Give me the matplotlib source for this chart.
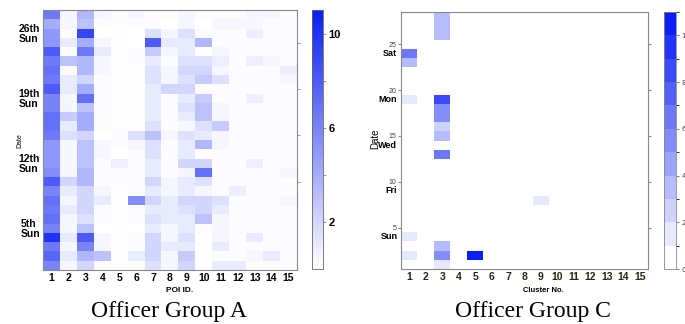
import numpy as np
import matplotlib
matplotlib.use('Agg')
import matplotlib.pyplot as plt
from matplotlib.colors import LinearSegmentedColormap, ListedColormap, BoundaryNorm

# ---------------------------------------------------------------
# Officer Group A : visits per POI, values listed from day 28 (top) down to day 1
poi_ids = list(range(1, 16))
a_poi01 = [6.5,4,5,5,8,6.5,7,6.5,8,6,6,7,7,6.5,5,5,5,5.5,8,6,7,6.5,7,6,10,6.5,7.5,6]
a_poi02 = [0.4,0.4,0.15,1,0.15,3,0.15,1,1,0.4,0.4,2.5,1,1.5,0.4,0.4,0.4,0.4,2,1,0.4,1,0.4,0.4,1,0.4,1,0.4]
a_poi03 = [3.5,3,9,4,6.5,3.5,3.5,2,4,7,3,4,4,2,3,3,3,3.5,3.5,2,2,2,1.5,3,8,6,3.5,2]
a_poi04 = [0.4,0.15,0,0.4,1,0.4,0.4,0.15,0.15,0.15,0.15,0.15,0.15,0,0.4,0.4,0.15,0.15,0.15,0.4,1,0.15,0.15,0,0.4,0.4,3,0.15]
a_poi05 = [0.15,0.1,0.1,0.1,0.1,0.1,0.1,0.1,0.1,0.1,0.1,0.1,0.1,0.15,0.15,0,0.8,0.15,0.15,0.1,0.1,0.1,0.1,0.1,0.1,0.1,0.1,0.1]
a_poi06 = [0.4,0.15,0,0,0.15,0.15,0.1,0.1,0.1,0.1,0.1,0.1,0.1,1.5,0.4,0.15,0.15,0.15,0.15,0.15,5.5,0.15,0.15,0,0.15,0.15,1,0.15]
a_poi07 = [0.15,0.15,1.5,8,2.5,1,1.5,1.5,1,1,1,1,1.5,3,1.5,1.5,1,1,2,1,2,1,1.5,1,2,2,2,1.5]
a_poi08 = [0.15,0,0.4,1,0.4,0.15,0.4,0.4,2,0.15,0.15,0.15,0.15,0.4,0.15,0.15,0.15,0.15,0.4,0.4,1,1,1,0.4,0.4,1,0.4,0.4]
a_poi09 = [0.4,0.4,1.5,1,1,1.5,2,1.5,2,1,1.5,1,0.4,1.5,1,1,2,0.4,1,1,2,1.5,1,1,1.5,1,2.5,2]
a_poi10 = [0.15,0,0.15,3.5,0,1.5,2,2.5,0.15,2.5,3,3,1.5,1,3.5,0,2,7,1.5,0.4,2,2,3,0.15,0,0,0,0]
a_poi11 = [0.15,0.4,0.15,0.15,0.4,0.8,0.4,1.5,0.15,0.15,0.4,0.4,2.5,0.4,0.4,0.15,0.15,0.15,0.15,0.15,1.5,1,0.4,0.4,0.4,1,0.15,1]
a_poi12 = [0.15,0.4,0.15,0.15,0.15,0.15,0.15,0.15,0.15,0.15,0.15,0.15,0.15,0.15,0.15,0.15,0.15,0.15,0.15,0.8,0.15,0.15,0.15,0.15,0.15,0.15,0.15,1]
a_poi13 = [0.4,0.4,0.8,0.15,0.15,0.8,0.15,0.15,0.15,0.8,0.15,0.15,0.15,0.15,0.15,0.15,0.8,0.15,0.15,0.15,0.15,0.15,0.15,0.15,1,0.15,0.4,0.15]
a_poi14 = [0.4,0.15,0.15,0.15,0.15,0.4,0.15,0.15,0.15,0.15,0.15,0.15,0.15,0.15,0.15,0.15,0.15,0.15,0.15,0.15,0.15,0.15,0.15,0.15,0.15,0.15,1,0.15]
a_poi15 = [0.15,0.15,0.15,0.15,0.15,0.15,0.8,0.4,0.15,0.15,0.15,0.15,0.15,0.15,0.15,0.15,0.15,0.4,0.15,0.15,0.4,0.15,0.15,0.15,0.15,0.15,0.15,0.15]
a_day_ticks = [26, 19, 12, 5]
a_day_labels = ['26th\nSun', '19th\nSun', '12th\nSun', '5th\nSun']
a_cb_ticks = [2, 4, 6, 8, 10]
a_cb_labels = ['2', '', '6', '', '10']

# Officer Group C : sparse cells (cluster, day, count)
c_cluster = [1, 1, 1, 1, 1, 3, 3, 3, 3, 3, 3, 3, 3, 3, 3, 3, 3, 5, 9]
c_day     = [24, 23, 19, 4, 2, 28, 27, 26, 19, 18, 17, 16, 15, 13, 3, 2, 1, 2, 8]
c_count   = [6, 3, 1, 1, 1, 3, 3, 3, 8, 5, 5, 2, 3, 6, 3, 5, 1, 10, 1]
c_num_ticks = [5, 10, 15, 20, 25]
c_wd_ticks = [24, 19, 14, 9, 4]
c_wd_labels = ['Sat', 'Mon', 'Wed', 'Fri', 'Sun']
n_days = 28

grid_a = np.array([a_poi01, a_poi02, a_poi03, a_poi04, a_poi05, a_poi06, a_poi07, a_poi08,
                   a_poi09, a_poi10, a_poi11, a_poi12, a_poi13, a_poi14, a_poi15]).T  # rows day 28..1

grid_c = np.zeros((n_days, len(poi_ids)))
for cl, d, v in zip(c_cluster, c_day, c_count):
    grid_c[d - 1, cl - 1] = v

blue = '#0a1ef5'
cmap_a = LinearSegmentedColormap.from_list('wb', ['white', blue])
cmap_c = ListedColormap([cmap_a(i / 10) for i in range(11)])
norm_c = BoundaryNorm(np.arange(0, 12), cmap_c.N)

bold = dict(family='Liberation Sans', weight='bold')
spine_col = '#888888'

fig = plt.figure(figsize=(6.85, 3.24), dpi=100)
W, H = 685, 324
def box(x0, y0, x1, y1):
    return [x0 / W, 1 - y1 / H, (x1 - x0) / W, (y1 - y0) / H]

# ---------------- panel A
ax = fig.add_axes(box(43, 10, 297, 270))
im = ax.imshow(grid_a, cmap=cmap_a, vmin=0, vmax=11, origin='upper', aspect='auto',
               extent=[0.5, 15.5, 0.5, 28.5], interpolation='nearest')
ax.set_xticks(poi_ids)
ax.set_xticklabels([str(p) for p in poi_ids], fontsize=7.5, **bold)
ax.set_xticks([5, 10, 15], minor=True)
ax.set_yticks(a_day_ticks)
ax.set_yticklabels(a_day_labels, fontsize=7.5, linespacing=1.0, multialignment='left', **bold)
ax.set_yticks([5, 10, 15, 20, 25], minor=True)
ax.tick_params(which='major', length=0, pad=2)
ax.tick_params(which='minor', length=2.5, color=spine_col, top=True, bottom=True,
               left=False, right=True, labelbottom=False)
for s in ax.spines.values():
    s.set_color(spine_col)
    s.set_linewidth(0.8)
fig.text(180 / W, 1 - 291 / H, 'POI ID.', ha='center', va='center', fontsize=6, **bold)
fig.text(20 / W, 1 - 141 / H, 'Date', ha='center', va='center', rotation=90, fontsize=5,
         family='Liberation Sans')
fig.text(169 / W, 1 - 311 / H, 'Officer Group A', ha='center', va='center', fontsize=17,
         family='Liberation Serif')

cax = fig.add_axes(box(312, 10, 323, 269))
cb = fig.colorbar(im, cax=cax, ticks=a_cb_ticks)
cb.set_ticklabels(a_cb_labels)
cb.outline.set_edgecolor('#666666')
cb.outline.set_linewidth(0.6)
cax.tick_params(length=2, width=0.6, color='#888888', pad=2)
for t in cax.get_yticklabels():
    t.set_fontsize(8)
    t.set_fontweight('bold')
    t.set_family('Liberation Sans')

# ---------------- panel C
ax2 = fig.add_axes(box(401, 12, 648, 269))
im2 = ax2.imshow(grid_c, cmap=cmap_c, norm=norm_c, origin='lower', aspect='auto',
                 extent=[0.5, 15.5, 0.5, 28.5], interpolation='nearest')
ax2.set_xticks(poi_ids)
ax2.set_xticklabels([str(p) for p in poi_ids], fontsize=7.5, color='#2e2410', **bold)
ax2.set_xticks([5, 10, 15], minor=True)
ax2.set_yticks(c_num_ticks)
ax2.set_yticklabels([str(v) for v in c_num_ticks], fontsize=5, color='#444444',
                    family='Liberation Sans')
ax2.tick_params(axis='x', which='major', length=0, pad=2)
ax2.tick_params(axis='y', which='major', length=2.5, color=spine_col, pad=1, right=True)
ax2.tick_params(which='minor', length=2.5, color=spine_col, top=True, bottom=True,
                labelbottom=False)
for d, lab in zip(c_wd_ticks, c_wd_labels):
    ax2.text(-0.015, d, lab, transform=ax2.get_yaxis_transform(), ha='right', va='center',
             fontsize=6.5, **bold)
for s in ax2.spines.values():
    s.set_color(spine_col)
    s.set_linewidth(0.8)
fig.text(543 / W, 1 - 290 / H, 'Cluster No.', ha='center', va='center', fontsize=5.5, **bold)
fig.text(375 / W, 1 - 139 / H, 'Date', ha='center', va='center', rotation=90, fontsize=7,
         family='Liberation Sans')
fig.text(533 / W, 1 - 311 / H, 'Officer Group C', ha='center', va='center', fontsize=17,
         family='Liberation Serif')

cax2 = fig.add_axes(box(664, 12, 676, 269))
cb2 = fig.colorbar(im2, cax=cax2, ticks=[0, 2, 4, 6, 8, 10])
cb2.outline.set_edgecolor('#888888')
cb2.outline.set_linewidth(0.6)
cax2.tick_params(length=2, width=0.6, color='#666666', pad=2, labelsize=5,
                 labelcolor='#444444')

fig.savefig('out.png', dpi=100)
